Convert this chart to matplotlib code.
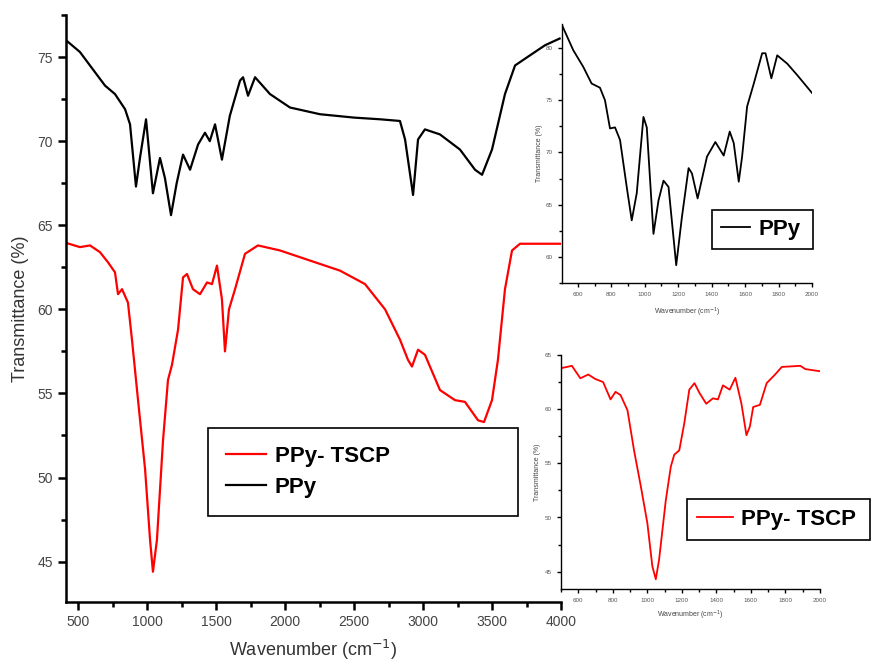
import matplotlib
matplotlib.use("Agg")
import matplotlib.pyplot as plt
from matplotlib.ticker import MultipleLocator

plt.rcParams["font.family"] = ["Liberation Sans", "DejaVu Sans"]

# main panel (wavenumber cm-1, transmittance %)
ppy_x = [413, 514, 623, 696, 768, 841, 877, 920, 949, 993, 1043, 1094, 1130, 1174,
         1215, 1261, 1312, 1370, 1420, 1455, 1493, 1543, 1600, 1674, 1696, 1732,
         1783, 1891, 2036, 2254, 2500, 2688, 2833, 2870, 2928, 2964, 3014, 3123,
         3268, 3377, 3428, 3500, 3594, 3667, 3775, 3884, 3990]
ppy_y = [76.0, 75.3, 74.1, 73.3, 72.8, 71.9, 71.0, 67.3, 69.0, 71.3, 66.9, 69.0, 67.8, 65.6,
         67.5, 69.2, 68.3, 69.8, 70.5, 70.0, 71.0, 68.9, 71.5, 73.6, 73.8, 72.7,
         73.8, 72.8, 72.0, 71.6, 71.4, 71.3, 71.2, 70.1, 66.8, 70.1, 70.7, 70.4,
         69.5, 68.3, 68.0, 69.5, 72.8, 74.5, 75.1, 75.7, 76.1]

tscp_x = [413, 514, 587, 659, 717, 768, 790, 819, 862, 891, 935, 986, 1022, 1043,
          1072, 1116, 1152, 1181, 1225, 1261, 1290, 1333, 1384, 1435, 1471, 1507,
          1543, 1565, 1594, 1638, 1710, 1804, 1964, 2181, 2399, 2580, 2725, 2833,
          2891, 2920, 2964, 3014, 3123, 3232, 3304, 3399, 3442, 3500, 3543, 3594,
          3645, 3703, 3884, 3993]
tscp_y = [63.95, 63.7, 63.8, 63.4, 62.8, 62.2, 60.9, 61.2, 60.4, 58.2, 54.6, 50.5, 46.3, 44.4,
          46.3, 52.2, 55.8, 56.7, 58.8, 61.9, 62.1, 61.2, 60.9, 61.6, 61.5, 62.6,
          60.6, 57.5, 60.0, 61.2, 63.3, 63.8, 63.5, 62.9, 62.3, 61.5, 60.0, 58.2,
          57.0, 56.6, 57.6, 57.3, 55.2, 54.6, 54.5, 53.4, 53.3, 54.6, 57.0, 61.2,
          63.5, 63.9, 63.9, 63.9]

# upper inset (PPy, 500-2000 cm-1)
ins1_x = [502, 572, 632, 682, 732, 762, 792, 822, 852, 892, 922, 952, 992, 1012,
          1052, 1082, 1112, 1142, 1188, 1222, 1262, 1282, 1316, 1372, 1422, 1472,
          1508, 1532, 1562, 1582, 1612, 1652, 1702, 1722, 1757, 1792, 1852, 1912, 2000]
ins1_y = [82.3, 79.8, 78.2, 76.6, 76.2, 75.0, 72.3, 72.4, 71.2, 66.7, 63.5, 66.1, 73.4, 72.4,
          62.2, 65.4, 67.3, 66.7, 59.2, 63.8, 68.5, 68.0, 65.6, 69.6, 71.0, 69.7,
          72.0, 70.9, 67.2, 69.6, 74.4, 76.6, 79.5, 79.5, 77.1, 79.3, 78.5, 77.4, 75.7]

# lower inset (PPy-TSCP, 500-2000 cm-1)
ins2_x = [505, 563, 612, 658, 697, 744, 787, 816, 845, 885, 923, 962, 1000, 1029,
          1049, 1068, 1107, 1136, 1156, 1185, 1214, 1243, 1273, 1302, 1341, 1380,
          1409, 1438, 1477, 1510, 1545, 1574, 1594, 1613, 1652, 1691, 1740, 1779,
          1886, 1915, 2000]
ins2_y = [63.8, 64.0, 62.85, 63.2, 62.8, 62.5, 60.9, 61.6, 61.3, 59.9, 56.2, 52.9, 49.5, 45.5,
          44.3, 46.1, 51.6, 54.7, 55.8, 56.2, 58.7, 61.8, 62.4, 61.5, 60.5, 61.0,
          60.9, 62.2, 61.8, 62.9, 60.5, 57.6, 58.4, 60.2, 60.4, 62.4, 63.2, 63.9,
          64.0, 63.7, 63.5]

W, H = 872, 668
fig = plt.figure(figsize=(W / 100, H / 100), dpi=100)


def box(x0, y0, x1, y1):
    # pixel box (top-left origin) -> figure fraction rect
    return [x0 / W, 1 - y1 / H, (x1 - x0) / W, (y1 - y0) / H]


def style(ax, lw, major, minor, size, color):
    for side in ("top", "right"):
        ax.spines[side].set_visible(False)
    for side in ("left", "bottom"):
        ax.spines[side].set_linewidth(lw)
    ax.tick_params(which="major", direction="out", length=major, width=lw,
                   labelsize=size, labelcolor=color)
    ax.tick_params(which="minor", direction="out", length=minor, width=lw)


def boxed_legend(ax, rect, pad, spacing=0.2, hlen=1.8, handles=None, labels=None):
    if handles is None:
        handles, labels = ax.get_legend_handles_labels()
    leg = ax.legend(handles, labels, loc="upper left", bbox_to_anchor=rect,
                    bbox_transform=fig.transFigure, mode="expand", borderaxespad=0,
                    fancybox=False, edgecolor="black", framealpha=1,
                    prop={"size": 16, "weight": "bold"}, handlelength=hlen,
                    borderpad=pad, labelspacing=spacing, handletextpad=0.4)
    leg.get_frame().set_linewidth(1.2)
    return leg


# main axes
ax = fig.add_axes(box(66, 15, 561, 602))
ax.plot(ppy_x, ppy_y, color="black", lw=1.6, label="PPy")
ax.plot(tscp_x, tscp_y, color="#ff0000", lw=1.6, label="PPy- TSCP")
ax.set_xlim(413, 4000)
ax.set_ylim(42.6, 77.5)
ax.xaxis.set_major_locator(MultipleLocator(500))
ax.xaxis.set_minor_locator(MultipleLocator(250))
ax.yaxis.set_major_locator(MultipleLocator(5))
ax.yaxis.set_minor_locator(MultipleLocator(2.5))
style(ax, 1.8, 6, 3.5, 10, "#444444")
ax.set_xlabel("Wavenumber (cm$^{-1}$)", fontsize=13, color="#333333", labelpad=6)
ax.set_ylabel("Transmittance (%)", fontsize=13, color="#333333", labelpad=6)
h, l = ax.get_legend_handles_labels()
boxed_legend(ax, box(208, 428, 518, 515), pad=0.8, spacing=0.45,
             handles=h[::-1], labels=l[::-1])

# upper inset
a1 = fig.add_axes(box(562, 24, 812, 283))
a1.plot(ins1_x, ins1_y, color="black", lw=1.3, label="PPy")
a1.set_xlim(505, 2000)
a1.set_ylim(57.5, 82.3)
a1.xaxis.set_major_locator(MultipleLocator(200))
a1.xaxis.set_minor_locator(MultipleLocator(100))
a1.yaxis.set_major_locator(MultipleLocator(5))
a1.yaxis.set_minor_locator(MultipleLocator(2.5))
style(a1, 1.0, 3, 2, 4.5, "#555555")
a1.set_xlabel("Wavenumber (cm$^{-1}$)", fontsize=5, color="#444444", labelpad=6)
a1.set_ylabel("Transmittance (%)", fontsize=5, color="#444444", labelpad=2)
boxed_legend(a1, box(712, 210, 813, 260), pad=0.4, hlen=1.3)

# lower inset
a2 = fig.add_axes(box(561, 355, 820, 589))
a2.plot(ins2_x, ins2_y, color="#ff0000", lw=1.3, label="PPy- TSCP")
a2.set_xlim(500, 2000)
a2.set_ylim(43.4, 65)
a2.xaxis.set_major_locator(MultipleLocator(200))
a2.xaxis.set_minor_locator(MultipleLocator(100))
a2.yaxis.set_major_locator(MultipleLocator(5))
a2.yaxis.set_minor_locator(MultipleLocator(2.5))
style(a2, 1.0, 3, 2, 4.5, "#555555")
a2.set_xlabel("Wavenumber (cm$^{-1}$)", fontsize=5, color="#444444", labelpad=4)
a2.set_ylabel("Transmittance (%)", fontsize=5, color="#444444", labelpad=3)
boxed_legend(a2, box(687, 499, 870, 543), pad=0.45, hlen=1.6)

fig.savefig("out.png", dpi=100)
